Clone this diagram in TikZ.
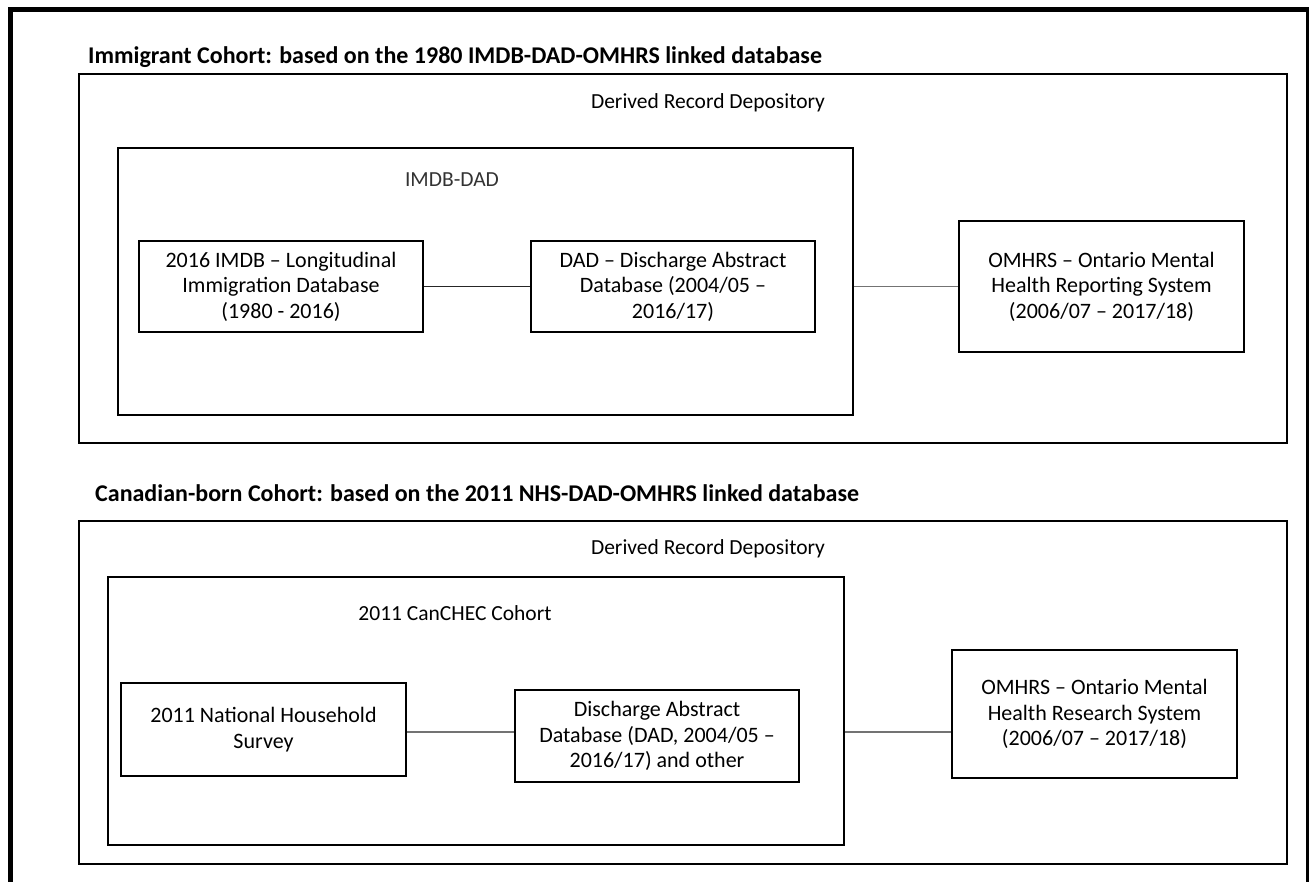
\documentclass[tikz,border=0pt]{standalone}
\usepackage{fontspec}
\setmainfont{Carlito}
\begin{document}
\begin{tikzpicture}[x=1pt,y=-1pt,
  every node/.style={font=\fontsize{21.5}{25}\selectfont, text=black},
  cont/.style={draw=black, line width=1.6pt, inner sep=0pt},
  dbbox/.style={draw=black, line width=1.6pt, inner sep=0pt, align=center,
    font=\fontsize{22}{25.5}\selectfont},
  title/.style={font=\fontsize{24}{28}\selectfont\bfseries, anchor=west, inner sep=0pt},
  lbl/.style={inner sep=0pt},
  link/.style={line width=1.1pt, draw=black!85},
  glink/.style={line width=1.1pt, draw=black!55}]
\useasboundingbox (0,0) rectangle (1309,882);
% outer frame
\draw[line width=5pt, line join=miter] (10,920) -- (10,9.5) -- (1308.5,9.5) -- (1308.5,920);

% ---------- Immigrant cohort ----------
\node[title] (t1) at (88,57) {Immigrant Cohort: based on the 1980 IMDB-DAD-OMHRS linked database};
\node[cont, minimum width=1208, minimum height=369] (drd1) at (683,258.5) {};
\node[lbl] (drd1l) at (708,103) {Derived Record Depository};
\node[cont, minimum width=735, minimum height=267] (imdbdad) at (485.5,281.5) {};
\node[lbl, text=black!80] (imdbdadl) at (452,180) {IMDB-DAD};
\node[dbbox, minimum width=284, minimum height=91] (imdb) at (281,286.5)
  {2016 IMDB – Longitudinal\\Immigration Database\\(1980 - 2016)};
\node[dbbox, minimum width=284, minimum height=91] (dad) at (673,286.5)
  {DAD – Discharge Abstract\\Database (2004/05 –\\2016/17)};
\node[dbbox, minimum width=285, minimum height=131] (omhrs) at (1101.5,286.5)
  {OMHRS – Ontario Mental\\Health Reporting System\\(2006/07 – 2017/18)};
\draw[link] (imdb.east) -- (dad.west);
\draw[glink] (imdbdad.east |- omhrs.west) -- (omhrs.west);

% ---------- Canadian-born cohort ----------
\node[title] (t2) at (95,493) {Canadian-born Cohort: based on the 2011 NHS-DAD-OMHRS linked database};
\node[cont, minimum width=1208, minimum height=343] (drd2) at (683,692.5) {};
\node[lbl] (drd2l) at (708,549) {Derived Record Depository};
\node[cont, minimum width=736, minimum height=268] (canchec) at (476,711) {};
\node[lbl] (canchecl) at (455,613) {2011 CanCHEC Cohort};
\node[dbbox, minimum width=285, minimum height=93] (nhs) at (263.5,729.5)
  {2011 National Household\\Survey};
\node[dbbox, minimum width=284, minimum height=92] (dad2) at (657,736)
  {Discharge Abstract\\Database (DAD, 2004/05 –\\2016/17) and other};
\node[dbbox, minimum width=285, minimum height=128] (omhrs2) at (1094.5,714)
  {OMHRS – Ontario Mental\\Health Research System\\(2006/07 – 2017/18)};
\coordinate (row2) at (0,732);
\draw[glink] (nhs.east |- row2) -- (dad2.west |- row2);
\draw[glink] (canchec.east |- row2) -- (omhrs2.west |- row2);
\end{tikzpicture}
\end{document}
